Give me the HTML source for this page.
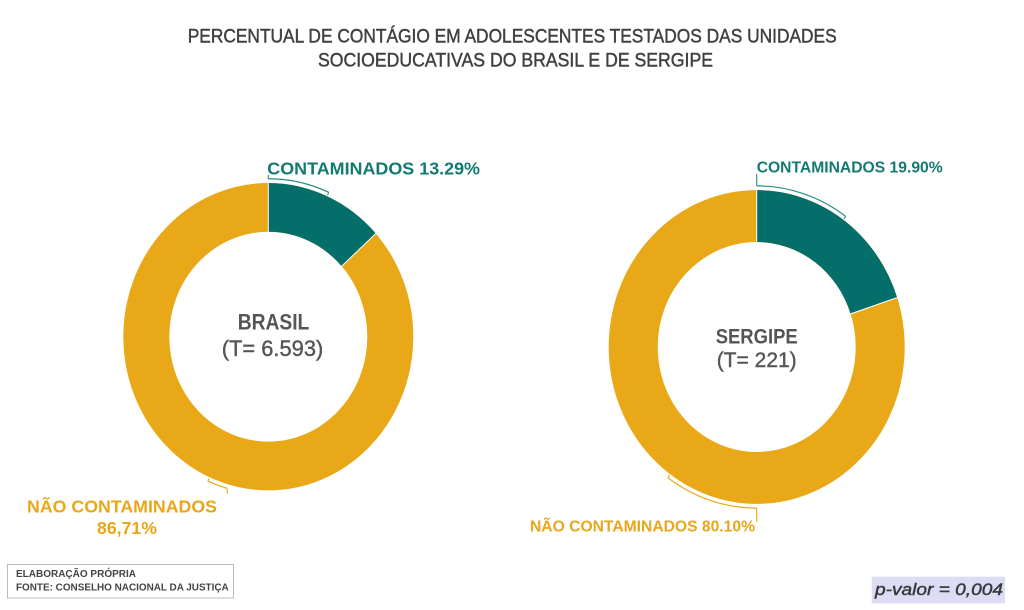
<!DOCTYPE html>
<html>
<head>
<meta charset="utf-8">
<style>
  html, body { margin: 0; padding: 0; background: #ffffff; }
  body { width: 1024px; height: 610px; overflow: hidden; }
  svg { display: block; }
  text { font-family: "Liberation Sans", "DejaVu Sans", sans-serif; }
</style>
</head>
<body>
<svg width="1024" height="610" viewBox="0 0 1024 610" xmlns="http://www.w3.org/2000/svg">
  <rect x="0" y="0" width="1024" height="610" fill="#ffffff"/>

  <!-- Title -->
  <text x="187.7" y="42.7" font-size="19" fill="#404040" stroke="#404040" stroke-width="0.45" textLength="649" lengthAdjust="spacingAndGlyphs">PERCENTUAL DE CONTÁGIO EM ADOLESCENTES TESTADOS DAS UNIDADES</text>
  <text x="318" y="66.7" font-size="19" fill="#404040" stroke="#404040" stroke-width="0.45" textLength="395" lengthAdjust="spacingAndGlyphs">SOCIOEDUCATIVAS DO BRASIL E DE SERGIPE</text>

  <!-- LEFT DONUT (BRASIL) -->
  <g transform="translate(268.3,336.7) scale(1,1.06)">
    <circle cx="0" cy="0" r="122" fill="none" stroke="#E9A817" stroke-width="46"/>
    <path d="M0,-145 A145,145 0 0 1 107.47,-97.34 L73.38,-66.46 A99,99 0 0 0 0,-99 Z" fill="#046E6A"/>
    <line x1="0" y1="-99" x2="0" y2="-145" stroke="#ffffff" stroke-width="1"/>
    <line x1="73.38" y1="-66.46" x2="107.47" y2="-97.34" stroke="#ffffff" stroke-width="1"/>
    <path d="M0,-149 A149,149 0 0 1 60.42,-136.2" fill="none" stroke="#2A8A83" stroke-width="1.1"/>
    <line x1="60.42" y1="-136.2" x2="59.2" y2="-133.5" stroke="#2A8A83" stroke-width="1.1"/>
    <path d="M-60.42,136.2 A149,149 0 0 0 -41.07,143.2" fill="none" stroke="#E9A817" stroke-width="1.1"/>
    <line x1="-60.42" y1="136.2" x2="-59.2" y2="133.5" stroke="#E9A817" stroke-width="1.1"/>
  </g>
  <line x1="268.3" y1="179" x2="268.3" y2="175" stroke="#2A8A83" stroke-width="1.1"/>
  <line x1="227.2" y1="488.5" x2="227.2" y2="493.5" stroke="#E9A817" stroke-width="1.1"/>

  <text x="267.3" y="174.3" font-size="17.5" font-weight="bold" fill="#137A72" textLength="212.7" lengthAdjust="spacingAndGlyphs">CONTAMINADOS 13.29%</text>
  <text x="27" y="512.7" font-size="17.5" font-weight="bold" fill="#E8A619" textLength="190" lengthAdjust="spacingAndGlyphs">NÃO CONTAMINADOS</text>
  <text x="97" y="534" font-size="17.5" font-weight="bold" fill="#E8A619" textLength="60" lengthAdjust="spacingAndGlyphs">86,71%</text>

  <text x="237.7" y="329.3" font-size="22" font-weight="bold" fill="#555555" textLength="71.6" lengthAdjust="spacingAndGlyphs">BRASIL</text>
  <text x="221.7" y="356" font-size="22" fill="#555555" stroke="#555555" stroke-width="0.4" textLength="101.6" lengthAdjust="spacingAndGlyphs">(T= 6.593)</text>

  <!-- RIGHT DONUT (SERGIPE) -->
  <g transform="translate(756.7,347) scale(1,1.06)">
    <circle cx="0" cy="0" r="123.5" fill="none" stroke="#E9A817" stroke-width="49"/>
    <path d="M0,-148 A148,148 0 0 1 140.47,-46.62 L93.96,-31.19 A99,99 0 0 0 0,-99 Z" fill="#046E6A"/>
    <line x1="0" y1="-99" x2="0" y2="-148" stroke="#ffffff" stroke-width="1"/>
    <line x1="93.96" y1="-31.19" x2="140.47" y2="-46.62" stroke="#ffffff" stroke-width="1"/>
    <path d="M0,-152 A152,152 0 0 1 88.95,-123.26" fill="none" stroke="#2A8A83" stroke-width="1.1"/>
    <line x1="88.95" y1="-123.26" x2="87.2" y2="-120.8" stroke="#2A8A83" stroke-width="1.1"/>
    <path d="M-88.95,123.26 A152,152 0 0 0 0,152" fill="none" stroke="#E9A817" stroke-width="1.1"/>
    <line x1="-88.95" y1="123.26" x2="-87.2" y2="120.8" stroke="#E9A817" stroke-width="1.1"/>
  </g>
  <line x1="756.7" y1="186" x2="756.7" y2="174" stroke="#2A8A83" stroke-width="1.1"/>
  <line x1="756.7" y1="508" x2="756.7" y2="522" stroke="#E9A817" stroke-width="1.1"/>

  <text x="756.7" y="172.7" font-size="16" font-weight="bold" fill="#137A72" textLength="186" lengthAdjust="spacingAndGlyphs">CONTAMINADOS 19.90%</text>
  <text x="530" y="531.7" font-size="16" font-weight="bold" fill="#E8A619" textLength="225" lengthAdjust="spacingAndGlyphs">NÃO CONTAMINADOS 80.10%</text>

  <text x="715.7" y="343.3" font-size="21" font-weight="bold" fill="#555555" textLength="82" lengthAdjust="spacingAndGlyphs">SERGIPE</text>
  <text x="716.7" y="367" font-size="21" fill="#555555" stroke="#555555" stroke-width="0.4" textLength="80" lengthAdjust="spacingAndGlyphs">(T= 221)</text>

  <!-- Footer source box -->
  <rect x="7.5" y="564.5" width="226" height="33.5" fill="#ffffff" stroke="#bbbbbb" stroke-width="1"/>
  <text x="16" y="577" font-size="10.5" font-weight="bold" fill="#444444" textLength="120" lengthAdjust="spacingAndGlyphs">ELABORAÇÃO PRÓPRIA</text>
  <text x="16" y="590.7" font-size="10.5" font-weight="bold" fill="#444444" textLength="212.7" lengthAdjust="spacingAndGlyphs">FONTE: CONSELHO NACIONAL DA JUSTIÇA</text>

  <!-- p-valor -->
  <rect x="871.7" y="576.7" width="133.3" height="26.6" fill="#DCDCF4"/>
  <text x="875" y="595" font-size="17" font-style="italic" fill="#383838" stroke="#383838" stroke-width="0.45" textLength="128" lengthAdjust="spacingAndGlyphs">p-valor = 0,004</text>
</svg>
</body>
</html>
